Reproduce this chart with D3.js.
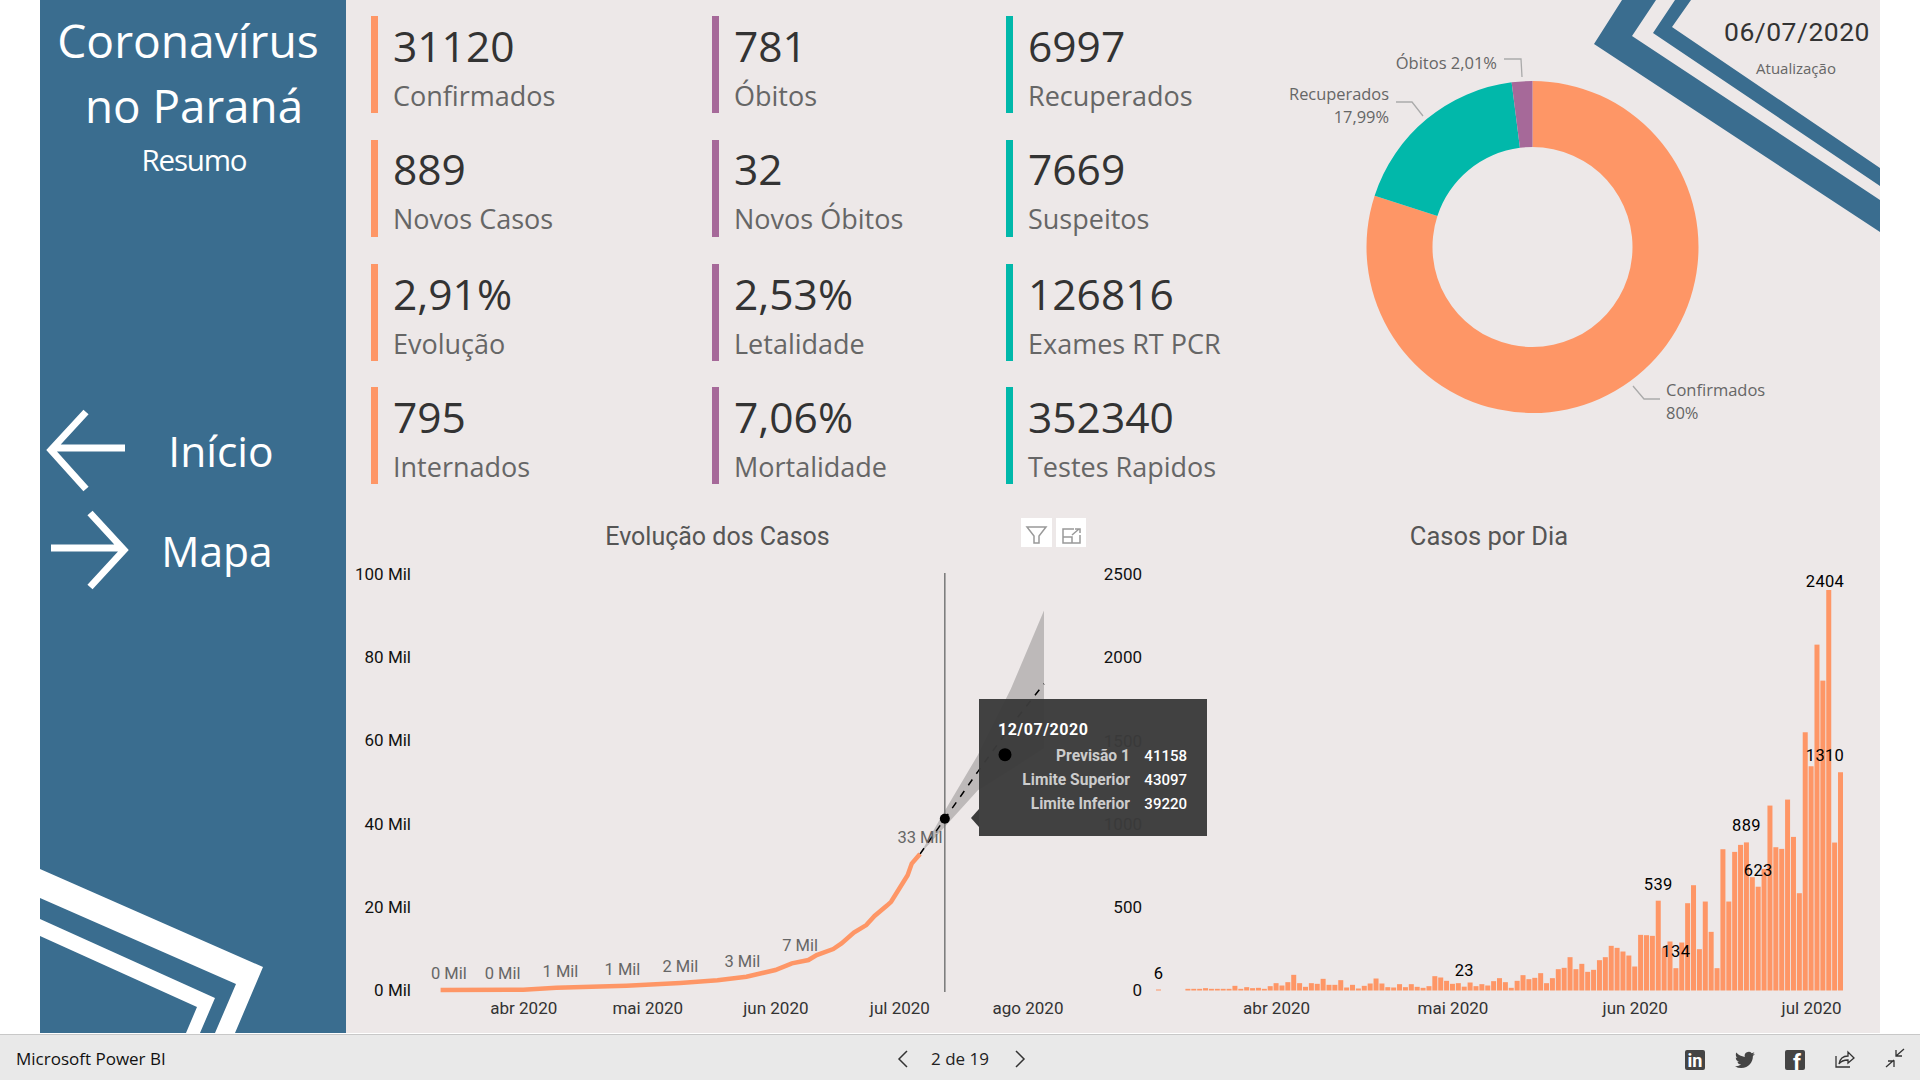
<!DOCTYPE html>
<html>
<head>
<meta charset="utf-8">
<title>Coronavírus no Paraná</title>
<script src="https://cdn.jsdelivr.net/npm/d3@7"></script>
<style>
  html, body { margin: 0; padding: 0; background: #fff; }
  svg { display: block; }
  .seg { font-family: "Open Sans", sans-serif; }
  .din { font-family: Roboto, sans-serif; }
  .domain { display: none; }
</style>
</head>
<body>
<div id="chart"></div>
<script>
// KPI cards
const kpiValues = [
  ["31120", "889", "2,91%", "795"],
  ["781", "32", "2,53%", "7,06%"],
  ["6997", "7669", "126816", "352340"]
];
const kpiLabels = [
  ["Confirmados", "Novos Casos", "Evolução", "Internados"],
  ["Óbitos", "Novos Óbitos", "Letalidade", "Mortalidade"],
  ["Recuperados", "Suspeitos", "Exames RT PCR", "Testes Rapidos"]
];

// Donut
const donutNames = ["Confirmados", "Recuperados", "Óbitos"];
const donutValues = [31120, 6997, 781];

// Evolução dos Casos
const cumDates = ["2020-03-12","2020-04-01","2020-04-09","2020-04-26","2020-05-09","2020-05-18","2020-05-25","2020-06-01","2020-06-05","2020-06-09","2020-06-11","2020-06-15","2020-06-17","2020-06-20","2020-06-23","2020-06-25","2020-06-28","2020-06-29","2020-07-01","2020-07-03","2020-07-04","2020-07-06"];
const cumValues = [0,80,560,1040,1680,2320,3200,4800,6400,7200,8400,9850,11200,13800,15600,17800,20300,21200,24400,27600,30400,32700];

const cumLabelDates = ["2020-03-14","2020-03-27","2020-04-10","2020-04-25","2020-05-09","2020-05-24","2020-06-07","2020-07-06"];
const cumLabelValues = [0,0,600,1000,1700,3000,6800,32700];
const cumLabelTexts = ["0 Mil","0 Mil","1 Mil","1 Mil","2 Mil","3 Mil","7 Mil","33 Mil"];

const forecastDates = ["2020-07-06","2020-07-12","2020-07-20","2020-07-28","2020-08-05"];
const forecastValues = [32700,41158,52500,63500,73600];
const forecastUpper = [32700,43097,56500,72400,91200];
const forecastLower = [32700,39220,48000,53000,58200];

const evoTicks = ["2020-04-01","2020-05-01","2020-06-01","2020-07-01","2020-08-01"];
const evoTickLabels = ["abr 2020","mai 2020","jun 2020","jul 2020","ago 2020"];

// Casos por Dia, one value per day from 12/03/2020
const dailyStart = "2020-03-12";
const dailyCases = [6,0,0,0,0,
  10,10,10,14,10,10,10,10,28,10,20,14,16,10,26,
  44,30,50,94,44,22,44,40,70,34,34,62,18,34,12,28,42,72,42,20,18,38,20,38,22,16,26,86,78,58,
  40,44,23,48,26,38,30,56,74,50,16,58,92,68,76,104,44,74,128,136,200,128,160,112,124,182,200,268,256,234,210,
  144,334,332,328,539,256,294,134,288,524,632,248,534,352,134,848,534,832,874,889,680,623,730,1110,860,850,1146,922,584,1550,
  1346,2076,1860,2404,888,1310];
const dailyLabelDates = ["2020-03-12","2020-05-03","2020-06-05","2020-06-08","2020-06-20","2020-06-22","2020-07-04","2020-07-06"];
const dailyTicks = ["2020-04-01","2020-05-01","2020-06-01","2020-07-01"];
const dailyTickLabels = ["abr 2020","mai 2020","jun 2020","jul 2020"];

// Tooltip
const tipDate = "12/07/2020";
const tipNames = ["Previsão 1","Limite Superior","Limite Inferior"];
const tipValues = ["41158","43097","39220"];

const orange = "#fe9666", purple = "#a66999", teal = "#01b8aa", blue = "#3a6d8f", bg = "#ede8e8";
const parse = d3.utcParse("%Y-%m-%d");

const svg = d3.select("#chart").append("svg").attr("width", 1920).attr("height", 1080);

function label(parent, x, y, str, size, fill, cls, anchor, weight) {
  return parent.append("text").attr("class", cls).attr("x", x).attr("y", y)
    .attr("font-size", size).attr("fill", fill)
    .attr("text-anchor", anchor || "start").attr("font-weight", weight || 400).text(str);
}
function poly(parent, pts, fill) {
  parent.append("polygon").attr("points", pts.map(p => p.join(",")).join(" ")).attr("fill", fill);
}

// background and side panel
svg.append("rect").attr("width", 1920).attr("height", 1080).attr("fill", "#fff");
svg.append("rect").attr("x", 40).attr("width", 1840).attr("height", 1033).attr("fill", bg);
svg.append("rect").attr("x", 40).attr("width", 306).attr("height", 1033).attr("fill", blue);

label(svg, 188, 57.5, "Coronavírus", 46.2, "#fff", "seg", "middle");
label(svg, 194, 122.5, "no Paraná", 45.8, "#fff", "seg", "middle");
label(svg, 194, 171, "Resumo", 29.5, "#fff", "seg", "middle").attr("letter-spacing", -1.2);
label(svg, 221, 467, "Início", 42.5, "#fff", "seg", "middle");
label(svg, 217, 567, "Mapa", 42.5, "#fff", "seg", "middle");

const arrows = svg.append("g").attr("fill", "none").attr("stroke", "#fff").attr("stroke-width", 7);
arrows.append("path").attr("d", "M125,448H52M86,412L51,450L86,489");
arrows.append("path").attr("d", "M51,548H122M90,513L124,550L90,587");

// white chevrons at bottom of the panel
poly(svg, [[40,869],[263,967],[235,1033],[215,1033],[236,984],[40,898]], "#fff");
poly(svg, [[40,919],[215,998],[200,1033],[186,1033],[197,1007],[40,936]], "#fff");

// blue chevrons top right
poly(svg, [[1622,0],[1594,44],[1880,232],[1880,200],[1632,36],[1656,0]], blue);
poly(svg, [[1675,0],[1653,33],[1880,186],[1880,168],[1672,27],[1691,0]], blue);

label(svg, 1797, 41, "06/07/2020", 26.5, "#333", "din", "middle").attr("letter-spacing", 0.5);
label(svg, 1796, 74, "Atualização", 15, "#666", "seg", "middle");

// KPI cards
const cardX = [371, 712, 1006];
const cardY = [16, 140, 264, 387];
const cardTextY = [62, 185, 310, 433];
const cardColor = [orange, purple, teal];
kpiValues.forEach((col, c) => col.forEach((v, r) => {
  svg.append("rect").attr("x", cardX[c]).attr("y", cardY[r]).attr("width", 7).attr("height", 97).attr("fill", cardColor[c]);
  label(svg, cardX[c] + 22, cardTextY[r], v, 42.5, "#333", "seg");
  label(svg, cardX[c] + 22, cardTextY[r] + 43.5, kpiLabels[c][r], 27, "#666", "seg");
}));

// Donut
const donutG = svg.append("g").attr("transform", "translate(1532.5,247)");
const pie = d3.pie().sort(null)(donutValues);
const arc = d3.arc().innerRadius(100).outerRadius(166);
const donutColor = d3.scaleOrdinal().domain(donutNames).range([orange, teal, purple]);
donutG.selectAll("path").data(pie).join("path").attr("d", arc).attr("fill", (d, i) => donutColor(donutNames[i]));

const leaders = svg.append("g").attr("fill", "none").attr("stroke", "#aaa").attr("stroke-width", 1.3);
leaders.append("path").attr("d", "M1504,59H1521L1522,77");
leaders.append("path").attr("d", "M1396,102H1412L1423,116");
leaders.append("path").attr("d", "M1633,386L1644,399H1660");
label(svg, 1497, 68.5, "Óbitos 2,01%", 16.5, "#666", "seg", "end");
label(svg, 1389, 100, "Recuperados", 16.4, "#666", "seg", "end");
label(svg, 1389, 123, "17,99%", 16.4, "#666", "seg", "end");
label(svg, 1666, 396, "Confirmados", 16.5, "#666", "seg");
label(svg, 1666, 419, "80%", 16.5, "#666", "seg");

// Evolução dos Casos
label(svg, 717.5, 545, "Evolução dos Casos", 25, "#555", "din", "middle");
const xEvo = d3.scaleUtc().domain([parse("2020-03-12"), parse("2020-08-05")]).range([440.6, 1044]);
const yEvo = d3.scaleLinear().domain([0, 100000]).range([990, 574]);

const axisFont = g => g.selectAll("text").attr("class", "din").attr("font-size", 17);
svg.append("g").attr("transform", "translate(411,0)")
  .call(d3.axisLeft(yEvo).tickValues(d3.range(0, 100001, 20000)).tickSize(0).tickPadding(0).tickFormat(d => `${d / 1000} Mil`))
  .call(axisFont).selectAll("text").attr("fill", "#111");
svg.append("g").attr("transform", "translate(0,1000)")
  .call(d3.axisBottom(xEvo).tickValues(evoTicks.map(parse)).tickSize(0).tickPadding(2).tickFormat((d, i) => evoTickLabels[i]))
  .call(axisFont).selectAll("text").attr("fill", "#333");

const band = d3.area().x((d, i) => xEvo(parse(forecastDates[i]))).y0((d, i) => yEvo(forecastLower[i])).y1(d => yEvo(d));
svg.append("path").attr("d", band(forecastUpper)).attr("fill", "#000").attr("fill-opacity", 0.2);
const line = d3.line().x(d => xEvo(d[0])).y(d => yEvo(d[1]));
svg.append("path").attr("d", line(d3.zip(forecastDates.map(parse), forecastValues)))
  .attr("fill", "none").attr("stroke", "#000").attr("stroke-width", 1.5).attr("stroke-dasharray", "7 7");
svg.append("path").attr("d", line(d3.zip(cumDates.map(parse), cumValues)))
  .attr("fill", "none").attr("stroke", orange).attr("stroke-width", 4.5);

cumLabelDates.forEach((d, i) => {
  label(svg, xEvo(parse(d)), yEvo(cumLabelValues[i]) - 11, cumLabelTexts[i], 16.5, "#666", "din", "middle");
});

const hover = parse("2020-07-12");
svg.append("line").attr("x1", xEvo(hover)).attr("x2", xEvo(hover)).attr("y1", 573).attr("y2", 992)
  .attr("stroke", "#777").attr("stroke-width", 1.5);
svg.append("circle").attr("cx", xEvo(hover)).attr("cy", yEvo(41158)).attr("r", 5).attr("fill", "#000");

// focus icons
const icons = svg.append("g");
icons.append("rect").attr("x", 1021).attr("y", 518).attr("width", 31).attr("height", 29).attr("fill", "#fff");
icons.append("rect").attr("x", 1056).attr("y", 518).attr("width", 30).attr("height", 29).attr("fill", "#fff");
icons.append("path").attr("d", "M1027,527H1046L1039,536V543H1034V536Z").attr("fill", "none").attr("stroke", "#999").attr("stroke-width", 1.5);
icons.append("path").attr("d", "M1074,529H1063V543H1080V535M1063,537H1072V543M1072,535L1079,529M1075,529H1080V533").attr("fill", "none").attr("stroke", "#999").attr("stroke-width", 1.5);

// Casos por Dia
label(svg, 1489, 545, "Casos por Dia", 25.5, "#555", "din", "middle");
const xDay = d3.scaleUtc().domain([parse("2020-03-12"), parse("2020-07-06")]).range([1158.5, 1840.5]);
const yDay = d3.scaleLinear().domain([0, 2500]).range([990.5, 574]);

svg.append("g").attr("transform", "translate(1142,0)")
  .call(d3.axisLeft(yDay).tickValues(d3.range(0, 2501, 500)).tickSize(0).tickPadding(0).tickFormat(d3.format("d")))
  .call(axisFont).selectAll("text").attr("fill", "#111");
svg.append("g").attr("transform", "translate(0,1000)")
  .call(d3.axisBottom(xDay).tickValues(dailyTicks.map(parse)).tickSize(0).tickPadding(2).tickFormat((d, i) => dailyTickLabels[i]))
  .call(axisFont).selectAll("text").attr("fill", "#333");

const dayOf = i => d3.utcDay.offset(parse(dailyStart), i);
svg.append("g").selectAll("rect").data(dailyCases).join("rect")
  .attr("x", (d, i) => xDay(dayOf(i)) - 2.5)
  .attr("y", d => yDay(d))
  .attr("width", 5)
  .attr("height", d => yDay(0) - yDay(d))
  .attr("fill", orange);

dailyLabelDates.forEach(d => {
  const date = parse(d);
  const v = dailyCases[d3.utcDay.count(parse(dailyStart), date)];
  label(svg, Math.min(xDay(date), 1825), Math.max(yDay(v) - 11, 587), v, 16.5, "#000", "din", "middle").attr("letter-spacing", 0.3);
});

// Tooltip on top of both charts
const tip = svg.append("g");
tip.append("rect").attr("x", 979).attr("y", 699).attr("width", 228).attr("height", 137).attr("fill", "#3b3b3b").attr("fill-opacity", 0.97);
poly(tip, [[979,809],[971,818],[979,827]], "#3b3b3b");
label(tip, 998, 735, tipDate, 16, "#fff", "din", "start", 700).attr("letter-spacing", 0.5);
tip.append("circle").attr("cx", 1005).attr("cy", 754.7).attr("r", 6.5).attr("fill", "#000");
tipNames.forEach((n, i) => {
  const y = 760.7 + i * 24.1;
  label(tip, 1130, y, n, 15.6, "#ccc", "din", "end", 700);
  label(tip, 1187, y, tipValues[i], 15, "#fff", "din", "end", 500);
});

// Power BI footer
const foot = svg.append("g");
foot.append("rect").attr("y", 1034).attr("width", 1920).attr("height", 46).attr("fill", "#e9e9e9");
foot.append("rect").attr("y", 1034).attr("width", 1920).attr("height", 1).attr("fill", "#c8c8c8");
label(foot, 16, 1065, "Microsoft Power BI", 17, "#111", "seg");
label(foot, 960, 1065, "2 de 19", 17, "#222", "seg", "middle");
foot.append("path").attr("d", "M907,1051L899,1059L907,1067M1016,1051L1024,1059L1016,1067").attr("fill", "none").attr("stroke", "#333").attr("stroke-width", 1.5);

foot.append("rect").attr("x", 1685).attr("y", 1050).attr("width", 20).attr("height", 20).attr("rx", 2).attr("fill", "#444");
label(foot, 1695, 1067, "in", 18, "#fff", "din", "middle", 700);
foot.append("path").attr("transform", "translate(1735,1050) scale(0.83)").attr("fill", "#444")
  .attr("d", "M23.95 4.57a10 10 0 0 1-2.82.78 4.96 4.96 0 0 0 2.16-2.72c-.95.55-2 .96-3.13 1.2a4.92 4.92 0 0 0-8.38 4.48C7.69 8.09 4.07 6.13 1.64 3.16a4.82 4.82 0 0 0-.66 2.48c0 1.71.87 3.21 2.19 4.1a4.9 4.9 0 0 1-2.23-.62v.06a4.92 4.92 0 0 0 3.95 4.83 5 5 0 0 1-2.21.08 4.94 4.94 0 0 0 4.6 3.42A9.87 9.87 0 0 1 0 19.54a14 14 0 0 0 7.56 2.21c9.05 0 14-7.5 14-13.98 0-.21 0-.42-.02-.63a9.94 9.94 0 0 0 2.46-2.55z");
foot.append("rect").attr("x", 1785).attr("y", 1050).attr("width", 20).attr("height", 20).attr("rx", 2).attr("fill", "#444");
label(foot, 1797, 1070, "f", 22, "#fff", "din", "middle", 700);
foot.append("path").attr("d", "M1836,1056V1067H1850M1839,1064C1840,1058 1844,1056 1848,1056V1052L1854,1058L1848,1063V1060C1844,1060 1841,1061 1839,1064Z")
  .attr("fill", "none").attr("stroke", "#333").attr("stroke-width", 1.3);
foot.append("path").attr("d", "M1904,1049L1896,1056M1896,1050V1056H1902M1886,1067L1894,1060M1888,1061H1894V1067")
  .attr("fill", "none").attr("stroke", "#333").attr("stroke-width", 1.3);
</script>
</body>
</html>
